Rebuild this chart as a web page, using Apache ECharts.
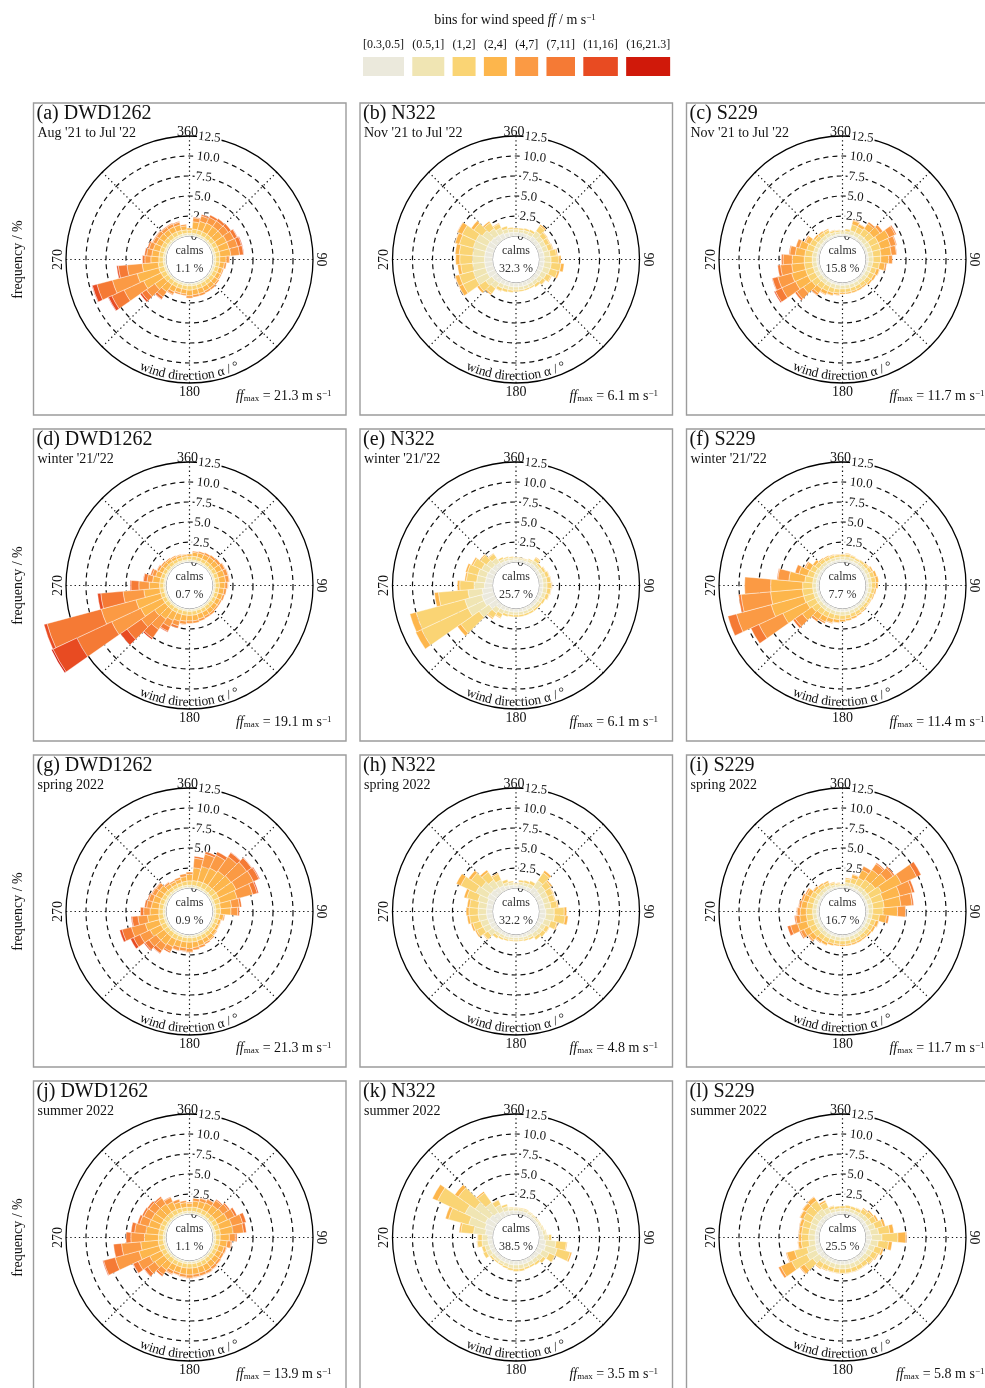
<!DOCTYPE html>
<html>
<head>
<meta charset="utf-8">
<title>Wind roses DWD1262 / N322 / S229</title>
<script src="https://cdn.jsdelivr.net/npm/echarts@6.0.0/dist/echarts.min.js"></script>
<style>
  html, body { margin: 0; padding: 0; background: #fff; }
  #chart { width: 985px; height: 1388px; }
</style>
</head>
<body>
<div id="chart"></div>
<script>
// ---------- data ----------
const speedBins = ['[0.3,0.5]', '(0.5,1]', '(1,2]', '(2,4]', '(4,7]', '(7,11]', '(11,16]', '(16,21.3]'];
const binColors = ['#ebe9dc', '#f0e5b3', '#fad474', '#fdb64c', '#fb9a44', '#f57a35', '#e84b22', '#d0190a'];
const directions = [0, 10, 20, 30, 40, 50, 60, 70, 80, 90, 100, 110, 120, 130, 140, 150, 160, 170,
                    180, 190, 200, 210, 220, 230, 240, 250, 260, 270, 280, 290, 300, 310, 320, 330, 340, 350];
const radiusTicks = [0, 2.5, 5, 7.5, 10, 12.5];
const angleLabelAngles = [0, 90, 180, 270];
const angleLabelTexts = ['360', '90', '180', '270'];

const panelLetters = ['a', 'b', 'c', 'd', 'e', 'f', 'g', 'h', 'i', 'j', 'k', 'l'];
const panelStations = ['DWD1262', 'N322', 'S229', 'DWD1262', 'N322', 'S229',
                       'DWD1262', 'N322', 'S229', 'DWD1262', 'N322', 'S229'];
const panelPeriods = ["Aug '21 to Jul '22", "Nov '21 to Jul '22", "Nov '21 to Jul '22",
                      "winter '21/'22", "winter '21/'22", "winter '21/'22",
                      'spring 2022', 'spring 2022', 'spring 2022',
                      'summer 2022', 'summer 2022', 'summer 2022'];
const calmShares = [1.1, 32.3, 15.8, 0.7, 25.7, 7.7, 0.9, 32.2, 16.7, 1.1, 38.5, 25.5];
const ffMax = [21.3, 6.1, 11.7, 19.1, 6.1, 11.4, 21.3, 4.8, 11.7, 13.9, 3.5, 5.8];

// frequency (%) per direction sector, one value per speed bin (missing = empty bin)
const freqA = [
  [0.1,0.25,0.4,0.25], [0.1,0.25,0.55,0.9,0.5,0.1], [0.1,0.25,0.55,1.1,0.7,0.2], [0.1,0.25,0.55,1.2,0.8,0.3],
  [0.1,0.25,0.55,1.2,0.85,0.35], [0.1,0.25,0.55,1.2,0.9,0.4], [0.1,0.25,0.55,1.3,1.0,0.45,0.05], [0.1,0.25,0.55,1.3,1.1,0.5,0.1],
  [0.1,0.25,0.55,1.35,1.1,0.5,0.05], [0.1,0.25,0.5,0.8,0.4,0.05], [0.1,0.25,0.5,0.6,0.25], [0.1,0.25,0.5,0.5,0.15],
  [0.1,0.25,0.5,0.5,0.15], [0.1,0.25,0.5,0.55,0.2], [0.1,0.25,0.5,0.6,0.25], [0.1,0.25,0.5,0.6,0.25],
  [0.1,0.25,0.5,0.65,0.3], [0.1,0.25,0.5,0.65,0.3], [0.1,0.25,0.55,0.7,0.3], [0.1,0.25,0.5,0.55,0.2],
  [0.1,0.25,0.5,0.55,0.2], [0.1,0.25,0.5,0.7,0.35,0.1], [0.1,0.25,0.55,1.1,0.8,0.35,0.05], [0.1,0.25,0.6,1.4,1.3,0.7,0.25],
  [0.1,0.25,0.65,2.4,2.7,1.7,0.45,0.05], [0.1,0.25,0.7,2.8,3.2,2.0,0.6,0.05], [0.1,0.25,0.65,2.0,1.9,1.1,0.2], [0.1,0.25,0.55,1.0,0.75,0.3,0.05],
  [0.1,0.25,0.55,0.9,0.65,0.25], [0.1,0.25,0.55,0.85,0.55,0.2], [0.1,0.25,0.55,0.75,0.45,0.1], [0.1,0.25,0.55,0.75,0.45,0.1],
  [0.1,0.25,0.55,0.7,0.4,0.1], [0.1,0.25,0.55,0.7,0.4,0.1], [0.1,0.25,0.5,0.7,0.35,0.1], [0.1,0.25,0.45,0.5,0.2]
];
const freqB = [
  [0.45,0.35,0.2], [0.45,0.35,0.2], [0.45,0.4,0.25], [0.45,0.45,0.3],
  [0.6,0.8,0.8,0.2], [0.55,0.65,0.6,0.1], [0.55,0.6,0.55,0.1], [0.55,0.65,0.6,0.1],
  [0.6,0.75,0.8,0.15], [0.6,0.85,1.0,0.25], [0.6,0.9,1.2,0.4], [0.6,0.85,1.0,0.25],
  [0.55,0.7,0.65,0.1], [0.55,0.55,0.45,0.05], [0.5,0.45,0.35], [0.5,0.4,0.2],
  [0.5,0.4,0.2], [0.5,0.4,0.2], [0.5,0.4,0.2], [0.5,0.45,0.25],
  [0.5,0.45,0.35], [0.55,0.5,0.4,0.05], [0.7,0.8,0.8,0.2], [0.75,0.95,1.0,0.3],
  [1.0,1.6,1.8,0.55,0.05], [1.0,1.6,1.8,0.55,0.05], [1.0,1.5,1.5,0.4], [1.0,1.5,1.6,0.5],
  [1.0,1.5,1.7,0.5], [1.0,1.6,1.8,0.55,0.05], [1.0,1.6,1.9,0.65,0.05], [0.9,1.3,1.3,0.4],
  [0.8,1.0,0.9,0.2], [0.7,0.75,0.55,0.1], [0.55,0.5,0.35], [0.5,0.4,0.2]
];
const freqC = [
  [0.25,0.3,0.15], [0.25,0.35,0.3], [0.3,0.5,0.8,0.5,0.1], [0.3,0.5,0.75,0.4,0.05],
  [0.3,0.55,0.9,0.8,0.25], [0.3,0.55,0.95,1.0,0.4], [0.3,0.6,1.1,1.5,0.85,0.15], [0.3,0.6,1.1,1.3,0.7,0.1],
  [0.3,0.6,1.0,1.3,0.65,0.05], [0.3,0.6,0.95,1.0,0.45], [0.3,0.55,0.85,0.7,0.2], [0.3,0.5,0.65,0.4,0.05],
  [0.3,0.5,0.6,0.3], [0.3,0.5,0.55,0.25], [0.3,0.45,0.45,0.2], [0.3,0.45,0.45,0.2],
  [0.3,0.45,0.45,0.2], [0.3,0.45,0.45,0.2], [0.3,0.45,0.45,0.2], [0.3,0.5,0.5,0.25,0.05],
  [0.3,0.5,0.6,0.35,0.05], [0.3,0.5,0.65,0.45,0.1], [0.3,0.5,0.75,0.7,0.3,0.05], [0.3,0.55,0.9,1.3,1.0,0.25],
  [0.3,0.55,1.0,1.7,1.9,0.9,0.15], [0.3,0.55,1.0,1.8,1.8,0.7,0.05], [0.3,0.55,1.0,1.6,1.4,0.35], [0.3,0.55,1.0,1.5,1.15,0.2],
  [0.3,0.55,0.95,1.2,0.7,0.1], [0.3,0.5,0.9,0.95,0.45], [0.3,0.5,0.75,0.6,0.15], [0.3,0.45,0.5,0.25],
  [0.3,0.45,0.45,0.2], [0.3,0.45,0.4,0.15], [0.25,0.35,0.25,0.05], [0.25,0.3,0.2,0.05]
];
const freqD = [
  [0.1,0.2,0.4,0.3], [0.1,0.2,0.45,0.5,0.15], [0.1,0.2,0.45,0.55,0.2], [0.1,0.2,0.45,0.6,0.25],
  [0.1,0.2,0.45,0.65,0.3], [0.1,0.2,0.45,0.7,0.35], [0.1,0.2,0.5,0.75,0.4,0.05], [0.1,0.2,0.5,0.8,0.45,0.05],
  [0.1,0.2,0.5,0.8,0.45,0.05], [0.1,0.2,0.5,0.7,0.35,0.05], [0.1,0.2,0.45,0.65,0.3], [0.1,0.2,0.45,0.6,0.25],
  [0.1,0.2,0.45,0.55,0.2], [0.1,0.2,0.45,0.55,0.2], [0.1,0.2,0.45,0.6,0.25], [0.1,0.2,0.45,0.6,0.25],
  [0.1,0.2,0.45,0.65,0.3], [0.1,0.2,0.5,0.7,0.3], [0.1,0.2,0.5,0.7,0.3], [0.1,0.2,0.5,0.75,0.4,0.05],
  [0.1,0.2,0.5,0.9,0.6,0.3], [0.1,0.2,0.5,1.1,0.9,0.6,0.1], [0.1,0.2,0.5,1.4,1.6,1.3,0.2], [0.1,0.2,0.5,1.6,2.0,2.2,1.0],
  [0.1,0.2,0.5,3.0,4.0,4.8,3.3,0.2], [0.1,0.2,0.5,3.2,4.5,7.0,0.4], [0.1,0.2,0.5,2.0,2.6,2.8,0.4], [0.1,0.2,0.5,1.3,1.3,1.0,0.1],
  [0.1,0.2,0.5,0.9,0.7,0.45,0.05], [0.1,0.2,0.45,0.7,0.45,0.2], [0.1,0.2,0.45,0.5,0.3,0.05], [0.1,0.2,0.45,0.45,0.2],
  [0.1,0.2,0.45,0.4,0.15], [0.1,0.2,0.4,0.35,0.15], [0.1,0.2,0.4,0.3,0.1], [0.1,0.2,0.4,0.25,0.05]
];
const freqE = [
  [0.3,0.2,0.1], [0.3,0.2,0.1], [0.3,0.2,0.1], [0.35,0.3,0.15],
  [0.45,0.45,0.4,0.1], [0.4,0.35,0.25], [0.4,0.4,0.35,0.05], [0.45,0.45,0.45,0.05],
  [0.45,0.5,0.5,0.05], [0.45,0.5,0.55,0.1], [0.45,0.5,0.5,0.05], [0.45,0.45,0.45,0.05],
  [0.4,0.4,0.3], [0.4,0.35,0.25], [0.4,0.35,0.25], [0.4,0.35,0.25],
  [0.4,0.35,0.25], [0.4,0.35,0.25], [0.4,0.35,0.25], [0.4,0.35,0.25],
  [0.4,0.4,0.3], [0.5,0.5,0.5,0.1], [0.6,0.7,0.75,0.15], [1.2,1.5,2.8,0.5],
  [1.5,2.2,6.4,0.8], [1.5,2.2,6.3,0.8], [1.3,1.8,3.7,0.5], [1.0,1.3,1.8,0.3],
  [0.9,1.1,1.3,0.2], [0.9,1.1,1.35,0.25], [0.8,1.0,1.2,0.2], [0.7,0.85,0.9,0.15],
  [0.6,0.7,0.6,0.1], [0.4,0.35,0.25], [0.35,0.3,0.15], [0.3,0.25,0.15]
];
const freqF = [
  [0.3,0.35,0.3,0.05], [0.3,0.35,0.35,0.1], [0.3,0.35,0.3,0.05], [0.3,0.3,0.25,0.05],
  [0.3,0.35,0.3,0.05], [0.3,0.35,0.35,0.1], [0.3,0.4,0.4,0.2], [0.3,0.4,0.5,0.3],
  [0.3,0.4,0.55,0.35], [0.3,0.4,0.5,0.3], [0.3,0.4,0.4,0.2], [0.3,0.35,0.4,0.15],
  [0.3,0.35,0.35,0.1], [0.3,0.35,0.35,0.1], [0.3,0.35,0.4,0.15], [0.3,0.4,0.4,0.2],
  [0.3,0.4,0.45,0.25], [0.35,0.45,0.45,0.25], [0.35,0.45,0.5,0.3], [0.35,0.45,0.55,0.4,0.05],
  [0.35,0.45,0.6,0.5,0.1], [0.35,0.45,0.65,0.65,0.2], [0.35,0.45,0.7,0.8,0.3], [0.35,0.45,0.9,1.5,1.1,0.3],
  [0.35,0.45,1.2,3.3,3.3,1.1], [0.35,0.45,1.3,4.2,4.5,1.1], [0.35,0.45,1.3,4.0,3.7,0.3], [0.35,0.45,1.25,4.0,3.25],
  [0.35,0.45,1.0,2.0,1.4,0.1], [0.35,0.45,0.8,1.1,0.5], [0.35,0.45,0.7,0.65,0.15], [0.3,0.4,0.55,0.35],
  [0.3,0.4,0.45,0.15], [0.3,0.35,0.4,0.15], [0.3,0.35,0.35,0.1], [0.3,0.35,0.3,0.05]
];
const freqG = [
  [0.1,0.25,0.55,0.8,0.3], [0.1,0.25,0.6,1.6,1.2,0.25], [0.1,0.25,0.65,1.9,1.6,0.3], [0.1,0.25,0.7,2.0,1.8,0.45],
  [0.1,0.25,0.7,2.2,2.2,0.6,0.05], [0.1,0.25,0.75,2.3,2.4,0.75,0.05], [0.1,0.25,0.75,2.4,2.4,0.75,0.11], [0.1,0.25,0.7,2.2,2.0,0.6,0.15],
  [0.1,0.25,0.6,1.4,1.0,0.25], [0.1,0.25,0.6,1.3,0.85,0.2], [0.1,0.25,0.5,0.5,0.15], [0.1,0.25,0.45,0.35,0.05],
  [0.1,0.25,0.45,0.35,0.05], [0.1,0.25,0.45,0.4,0.1], [0.1,0.25,0.5,0.5,0.15], [0.1,0.25,0.5,0.55,0.2],
  [0.1,0.25,0.5,0.65,0.3], [0.1,0.25,0.55,0.7,0.3], [0.1,0.25,0.55,0.8,0.45,0.05], [0.1,0.25,0.55,0.75,0.4,0.05],
  [0.1,0.25,0.55,0.8,0.45,0.05], [0.1,0.25,0.6,1.0,0.65,0.2], [0.1,0.25,0.6,1.2,0.9,0.4,0.05], [0.1,0.25,0.6,1.2,1.1,0.6,0.15],
  [0.1,0.25,0.65,1.5,1.4,0.9,0.4], [0.1,0.25,0.65,1.8,1.8,1.2,0.3], [0.1,0.25,0.6,1.4,1.2,0.75,0.1], [0.1,0.25,0.55,1.1,0.8,0.4],
  [0.1,0.25,0.55,0.95,0.6,0.25], [0.1,0.25,0.55,0.9,0.55,0.15], [0.1,0.25,0.5,0.85,0.5,0.1], [0.1,0.25,0.5,0.8,0.45,0.1],
  [0.1,0.25,0.45,0.5,0.25,0.05], [0.1,0.25,0.45,0.4,0.2], [0.1,0.25,0.45,0.45,0.25], [0.1,0.25,0.5,0.6,0.35]
];
const freqH = [
  [0.3,0.2,0.1], [0.4,0.35,0.25], [0.4,0.4,0.3], [0.45,0.45,0.4],
  [0.8,1.0,1.2,0.3], [0.7,0.85,0.85,0.2], [0.65,0.8,0.75,0.1], [0.65,0.75,0.7,0.1],
  [0.65,0.8,0.8,0.15], [0.8,1.05,1.25,0.3], [0.8,1.1,1.35,0.35], [0.7,0.85,0.8,0.15],
  [0.55,0.6,0.5,0.05], [0.55,0.55,0.5], [0.5,0.5,0.4], [0.4,0.35,0.25],
  [0.4,0.3,0.2], [0.35,0.3,0.15], [0.35,0.3,0.15], [0.35,0.3,0.15],
  [0.4,0.3,0.2], [0.4,0.35,0.25], [0.45,0.4,0.35], [0.6,0.75,0.65,0.1],
  [0.7,0.9,0.9,0.2], [0.7,0.95,1.0,0.25], [0.75,1.05,1.1,0.3], [0.75,1.05,1.15,0.35],
  [0.75,1.05,1.1,0.3], [0.8,1.2,1.45,0.35], [1.0,1.6,2.1,0.6], [0.9,1.4,1.6,0.4],
  [0.8,1.1,1.2,0.3], [0.65,0.8,0.8,0.15], [0.45,0.4,0.35], [0.4,0.3,0.2]
];
const freqI = [
  [0.2,0.2,0.1], [0.3,0.4,0.45,0.15], [0.3,0.45,0.65,0.45,0.05], [0.3,0.5,0.9,1.1,0.5],
  [0.3,0.55,1.1,1.5,0.9,0.15], [0.3,0.55,1.2,1.7,1.05,0.2], [0.3,0.6,1.6,2.7,2.1,0.6], [0.3,0.6,1.4,2.2,1.6,0.3],
  [0.3,0.6,1.4,2.1,1.4,0.2], [0.3,0.55,1.3,1.8,1.0,0.05], [0.3,0.5,0.9,0.9,0.3], [0.3,0.45,0.6,0.4,0.05],
  [0.3,0.45,0.55,0.3], [0.3,0.45,0.5,0.25], [0.3,0.45,0.45,0.2], [0.3,0.45,0.45,0.2],
  [0.3,0.45,0.45,0.2], [0.3,0.45,0.45,0.2], [0.3,0.45,0.45,0.2], [0.3,0.45,0.45,0.2],
  [0.3,0.45,0.5,0.25], [0.3,0.5,0.6,0.35,0.05], [0.3,0.5,0.6,0.4,0.1], [0.3,0.5,0.75,0.6,0.2,0.05],
  [0.3,0.5,0.8,0.8,0.45,0.15], [0.3,0.5,0.9,1.2,0.9,0.4], [0.3,0.5,0.8,0.85,0.5,0.15], [0.3,0.5,0.8,0.75,0.4,0.05],
  [0.3,0.5,0.75,0.7,0.3,0.05], [0.3,0.5,0.7,0.65,0.25], [0.3,0.5,0.65,0.55,0.2], [0.3,0.45,0.5,0.3,0.05],
  [0.3,0.45,0.45,0.2], [0.3,0.4,0.4,0.2], [0.25,0.3,0.25,0.1], [0.2,0.25,0.2,0.05]
];
const freqJ = [
  [0.1,0.25,0.5,0.5,0.15], [0.1,0.25,0.55,0.75,0.35], [0.1,0.25,0.55,0.85,0.4,0.05], [0.1,0.25,0.55,0.95,0.5,0.05],
  [0.1,0.25,0.55,1.1,0.75,0.15], [0.1,0.25,0.6,1.2,0.85,0.2], [0.1,0.25,0.6,1.35,1.0,0.3], [0.1,0.25,0.6,1.6,1.4,0.45],
  [0.1,0.25,0.6,1.6,1.3,0.35], [0.1,0.25,0.55,1.15,0.75,0.2], [0.1,0.25,0.55,0.9,0.5,0.1], [0.1,0.25,0.5,0.7,0.3,0.05],
  [0.1,0.25,0.5,0.65,0.3], [0.1,0.25,0.5,0.7,0.3,0.05], [0.1,0.25,0.5,0.75,0.35,0.05], [0.1,0.25,0.55,0.8,0.35,0.05],
  [0.1,0.25,0.55,0.8,0.35,0.05], [0.1,0.25,0.55,0.8,0.35,0.05], [0.1,0.25,0.55,0.85,0.4,0.05], [0.1,0.25,0.55,0.8,0.35,0.05],
  [0.1,0.25,0.55,0.75,0.3,0.05], [0.1,0.25,0.55,0.8,0.4,0.1], [0.1,0.25,0.6,1.1,0.7,0.25], [0.1,0.25,0.6,1.4,1.1,0.5,0.05],
  [0.1,0.25,0.6,1.6,1.6,0.7,0.05], [0.1,0.25,0.65,2.6,3.1,1.5,0.1], [0.1,0.25,0.65,2.2,2.4,1.0], [0.1,0.25,0.6,1.75,1.7,0.6],
  [0.1,0.25,0.6,1.6,1.4,0.45], [0.1,0.25,0.6,1.4,1.15,0.3], [0.1,0.25,0.6,1.35,1.05,0.25], [0.1,0.25,0.6,1.3,1.0,0.25],
  [0.1,0.25,0.6,1.25,0.9,0.2], [0.1,0.25,0.6,1.05,0.6,0.1], [0.1,0.25,0.55,0.75,0.35], [0.1,0.25,0.5,0.6,0.25]
];
const freqK = [
  [0.4,0.3,0.1], [0.4,0.3,0.1], [0.4,0.3,0.1], [0.35,0.25,0.1],
  [0.3,0.2,0.1], [0.3,0.2,0.1], [0.3,0.2,0.1], [0.35,0.25,0.1],
  [0.45,0.35,0.1], [0.55,0.6,0.35], [0.8,1.3,1.3,0.1], [0.9,1.5,1.7,0.2],
  [0.7,0.95,0.8,0.05], [0.55,0.65,0.4], [0.5,0.5,0.3], [0.5,0.45,0.25],
  [0.5,0.45,0.25], [0.5,0.5,0.3], [0.5,0.5,0.3], [0.5,0.45,0.25],
  [0.45,0.4,0.25], [0.45,0.35,0.2], [0.45,0.35,0.2], [0.45,0.4,0.25],
  [0.55,0.6,0.45], [0.55,0.55,0.4], [0.6,0.75,0.6,0.05], [0.6,0.7,0.55,0.05],
  [0.9,1.5,1.6,0.2], [1.1,2.1,2.6,0.4], [1.3,2.8,3.8,0.7], [1.1,2.2,2.6,0.5],
  [0.9,1.5,1.5,0.2], [0.7,0.9,0.65,0.05], [0.55,0.55,0.3], [0.45,0.35,0.1]
];
const freqL = [
  [0.35,0.35,0.3], [0.35,0.4,0.35], [0.35,0.4,0.35], [0.35,0.4,0.4,0.05],
  [0.4,0.5,0.55,0.15], [0.45,0.55,0.6,0.2], [0.45,0.6,0.7,0.25], [0.5,0.8,1.0,0.3],
  [0.6,1.0,1.4,0.5], [0.7,1.3,2.0,1.0,0.1], [0.6,0.95,1.3,0.45], [0.5,0.75,0.9,0.25],
  [0.5,0.65,0.7,0.15], [0.45,0.6,0.65,0.1], [0.45,0.55,0.55,0.05], [0.45,0.55,0.55,0.05],
  [0.45,0.55,0.55,0.05], [0.45,0.55,0.55,0.05], [0.45,0.55,0.55,0.05], [0.45,0.55,0.55,0.05],
  [0.45,0.55,0.55,0.05], [0.45,0.55,0.6,0.1], [0.5,0.6,0.65,0.15], [0.6,1.0,1.3,0.6,0.1],
  [0.7,1.3,2.1,1.5,0.3], [0.6,1.1,1.6,1.0,0.1], [0.5,0.8,0.95,0.4,0.05], [0.5,0.8,0.9,0.35,0.05],
  [0.5,0.8,0.9,0.35,0.05], [0.5,0.8,0.95,0.4,0.05], [0.55,0.85,1.1,0.45,0.05], [0.55,0.9,1.2,0.5,0.05],
  [0.55,0.9,1.25,0.55,0.05], [0.5,0.7,0.75,0.25], [0.4,0.4,0.35,0.05], [0.35,0.35,0.3]
];
const panelFreqs = [freqA, freqB, freqC, freqD, freqE, freqF, freqG, freqH, freqI, freqJ, freqK, freqL];

// ---------- layout ----------
const FONT = '"Liberation Serif", "Times New Roman", serif';
const PANEL_X0 = 33.5, PANEL_Y0 = 103, STEP_X = 326.5, STEP_Y = 326;
const PANEL_W = 312.5, PANEL_H = 312;
const R_IN = 23.5, R_OUT = 123.5;

function panelBox(i) {
  return { x: PANEL_X0 + (i % 3) * STEP_X, y: PANEL_Y0 + Math.floor(i / 3) * STEP_Y };
}
function centerOf(i) {
  const b = panelBox(i);
  return [b.x + 156, b.y + 156.5];
}

const chart = echarts.init(document.getElementById('chart'), null, { width: 985, height: 1388 });

const polar = [], angleAxis = [], radiusAxis = [], series = [];
const hiddenParts = { axisTick: { show: false }, axisLabel: { show: false }, splitLine: { show: false } };

panelFreqs.forEach((freq, i) => {
  const c = centerOf(i);
  const base = i * 4;

  // grid: dotted spokes every 45 degrees, dashed frequency rings
  polar.push({ center: c, radius: [R_IN, R_OUT] });
  angleAxis.push({
    polarIndex: base, type: 'value', min: 0, max: 360, interval: 45,
    startAngle: 90, clockwise: true,
    axisLine: { show: false }, axisTick: { show: false }, axisLabel: { show: false },
    splitLine: { show: true, lineStyle: { color: '#111', width: 1.2, type: [1.3, 3] } }
  });
  radiusAxis.push({
    polarIndex: base, type: 'value', min: 0, max: 12.5, interval: 2.5,
    axisLine: { show: false }, axisTick: { show: false }, axisLabel: { show: false },
    splitLine: {
      show: true,
      lineStyle: {
        color: ['rgba(0,0,0,0)', '#111', '#111', '#111', '#111', 'rgba(0,0,0,0)'],
        width: 1.2, type: [5, 4]
      }
    }
  });

  // stacked direction sectors, 10 degree wide, centred on the direction
  polar.push({ center: c, radius: [R_IN, R_OUT] });
  angleAxis.push({
    polarIndex: base + 1, type: 'category', data: directions.map(String),
    startAngle: 95, clockwise: true, boundaryGap: true, show: false
  });
  radiusAxis.push({ polarIndex: base + 1, type: 'value', min: 0, max: 12.5, show: false });

  // calm circle
  polar.push({ center: c, radius: [0, R_IN] });
  angleAxis.push(Object.assign({
    polarIndex: base + 2, type: 'value', min: 0, max: 360,
    axisLine: { show: true, lineStyle: { color: '#7a7a7a', width: 1 } }
  }, hiddenParts));
  radiusAxis.push({ polarIndex: base + 2, type: 'value', show: false });

  // outer rim (12.5 %)
  polar.push({ center: c, radius: [0, R_OUT] });
  angleAxis.push(Object.assign({
    polarIndex: base + 3, type: 'value', min: 0, max: 360,
    axisLine: { show: true, lineStyle: { color: '#000', width: 1.3 } }
  }, hiddenParts));
  radiusAxis.push({ polarIndex: base + 3, type: 'value', show: false });

  speedBins.forEach((bin, b) => {
    series.push({
      type: 'bar', name: bin, coordinateSystem: 'polar', polarIndex: base + 1,
      stack: 'rose' + i, barCategoryGap: '0%', clip: false, silent: true,
      data: freq.map(d => (d[b] != null ? d[b] : null)),
      itemStyle: { color: binColors[b], borderColor: 'rgba(255,255,255,0.8)', borderWidth: 0.5 }
    });
  });
});

chart.setOption({
  backgroundColor: '#fff',
  animation: false,
  polar, angleAxis, radiusAxis, series
});

// ---------- text and frames ----------
const measureCtx = document.createElement('canvas').getContext('2d');
function textWidth(str, size, style) {
  measureCtx.font = (style || '') + ' ' + size + 'px "Liberation Serif"';
  return measureCtx.measureText(str).width;
}
function txt(x, y, text, size, extra) {
  return Object.assign({
    type: 'text', x, y, silent: true, z: 1,
    style: Object.assign({
      text, fontFamily: FONT, fontSize: size, fill: '#111',
      align: 'center', verticalAlign: 'middle'
    }, (extra && extra.style) || {})
  }, extra ? { rotation: extra.rotation || 0 } : {});
}

const elements = [];

// legend
const richUnits = {
  n: { fontFamily: FONT, fontSize: 14, fill: '#111' },
  i: { fontFamily: FONT, fontSize: 14, fontStyle: 'italic', fill: '#111' },
  sup: { fontFamily: FONT, fontSize: 9, fill: '#111', verticalAlign: 'top' },
  sub: { fontFamily: FONT, fontSize: 9, fill: '#111', verticalAlign: 'bottom' }
};
elements.push({
  type: 'text', x: 515, y: 20, silent: true,
  style: {
    text: '{n|bins for wind speed }{i|ff}{n| / m s}{sup|−1}',
    align: 'center', verticalAlign: 'middle', rich: richUnits
  }
});
let lx = 363;
speedBins.forEach((label, b) => {
  const w = textWidth(label, 12);
  elements.push(txt(lx + w / 2, 45, label, 12));
  elements.push({
    type: 'rect', silent: true,
    shape: { x: lx, y: 57, width: w, height: 19 },
    style: { fill: binColors[b] }
  });
  lx += w + 8.3;
});

panelFreqs.forEach((freq, i) => {
  const box = panelBox(i);
  const [cx, cy] = centerOf(i);
  const gridFinder = { polarIndex: i * 4 };

  elements.push({
    type: 'rect', silent: true, z: 0,
    shape: { x: box.x, y: box.y, width: PANEL_W, height: PANEL_H },
    style: { fill: 'none', stroke: '#9c9c9c', lineWidth: 1.4 }
  });

  // headings
  elements.push(txt(box.x + 3, box.y + 11, '(' + panelLetters[i] + ') ' + panelStations[i], 20,
    { style: { align: 'left' } }));
  elements.push(txt(box.x + 4, box.y + 30, panelPeriods[i], 14, { style: { align: 'left' } }));

  if (i % 3 === 0) {
    elements.push(txt(18, cy, 'frequency / %', 14, { rotation: Math.PI / 2 }));
  }

  // calms in the centre
  elements.push(txt(cx, cy - 8.5, 'calms', 12, { style: { fill: '#333' } }));
  elements.push(txt(cx, cy + 9.5, calmShares[i].toFixed(1) + ' %', 12, { style: { fill: '#333' } }));

  // radial tick labels along the north spoke
  radiusTicks.forEach(v => {
    const p = chart.convertToPixel(gridFinder, [v, 3.5]);
    elements.push(txt(p[0], p[1], v === 0 ? '0' : v.toFixed(1), 13, {
      rotation: -0.1,
      style: Object.assign({ align: 'left' },
        v === 0 ? {} : { backgroundColor: '#fff', padding: [0, 1, 0, 1] })
    }));
  });

  // direction labels
  angleLabelAngles.forEach((a, k) => {
    const p = chart.convertToPixel(gridFinder, [12.5, a]);
    let el;
    if (a === 0) el = txt(p[0] - 2, p[1] + 3, angleLabelTexts[k], 14, { style: { verticalAlign: 'bottom' } });
    else if (a === 180) el = txt(p[0], p[1] + 2, angleLabelTexts[k], 14, { style: { verticalAlign: 'top' } });
    else if (a === 90) el = txt(p[0] + 1, p[1], angleLabelTexts[k], 14, { rotation: -Math.PI / 2, style: { verticalAlign: 'bottom' } });
    else el = txt(p[0] - 1, p[1], angleLabelTexts[k], 14, { rotation: Math.PI / 2, style: { verticalAlign: 'bottom' } });
    elements.push(el);
  });

  // axis title set along the lower rim
  const title = 'wind direction α / °';
  const size = 13.5, rBase = 121, rAnchor = 124;
  const chars = Array.from(title);
  const widths = chars.map(ch => textWidth(ch, size));
  const total = widths.reduce((s, w) => s + w, 0);
  let run = 0;
  chars.forEach((ch, k) => {
    const mid = run + widths[k] / 2;
    run += widths[k];
    const th = 180 + (total / 2 - mid) / rBase * 180 / Math.PI;
    const rad = th * Math.PI / 180;
    elements.push(txt(cx + rAnchor * Math.sin(rad), cy - rAnchor * Math.cos(rad), ch, size, {
      rotation: (180 - th) * Math.PI / 180,
      style: { verticalAlign: 'bottom' }
    }));
  });

  // maximum wind speed
  elements.push({
    type: 'text', x: box.x + 298, y: box.y + 293, silent: true,
    style: {
      text: '{i|ff}{sub|max}{n| = ' + ffMax[i].toFixed(1) + ' m s}{sup|−1}',
      align: 'right', verticalAlign: 'middle', rich: richUnits
    }
  });
});

chart.setOption({ graphic: { elements } });
</script>
</body>
</html>
